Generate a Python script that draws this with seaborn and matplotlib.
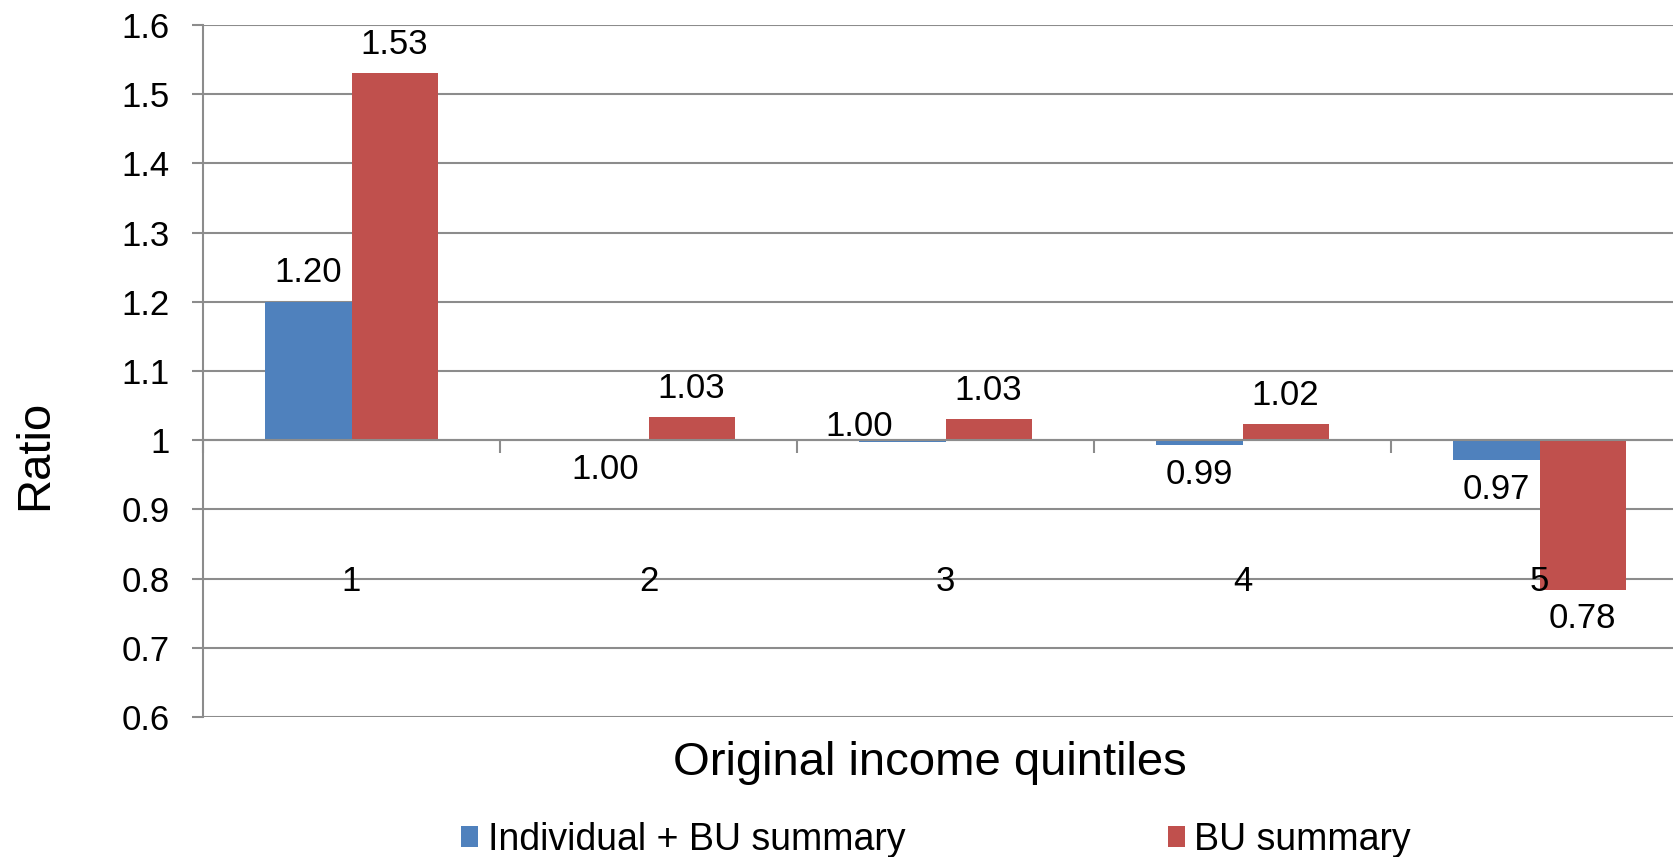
import numpy as np
import pandas as pd
import matplotlib
matplotlib.use("Agg")
import matplotlib.pyplot as plt
from matplotlib.patches import Patch
from matplotlib.ticker import FixedLocator
import seaborn as sns

# ---- data ----
quintiles = ["1", "2", "3", "4", "5"]
series_names = ["Individual + BU summary", "BU summary"]
individual_bu = [1.20, 0.9995, 0.997, 0.993, 0.971]
bu_summary = [1.53, 1.033, 1.030, 1.023, 0.784]
y_ticks = [0.6, 0.7, 0.8, 0.9, 1.0, 1.1, 1.2, 1.3, 1.4, 1.5, 1.6]
y_tick_labels = ["0.6", "0.7", "0.8", "0.9", "1", "1.1", "1.2", "1.3", "1.4", "1.5", "1.6"]

colors = ["#4F81BD", "#C0504D"]
grid_color = "#8C8C8C"
BASE = 1.0

df = pd.DataFrame({
    "quintile": quintiles * 2,
    "series": [series_names[0]] * 5 + [series_names[1]] * 5,
    "ratio": individual_bu + bu_summary,
})
df["diff"] = df["ratio"] - BASE

sns.set_style("white")
plt.rcParams["font.family"] = ["Liberation Sans", "DejaVu Sans"]
plt.rcParams["text.color"] = "black"
plt.rcParams["xtick.labelcolor"] = "black"
plt.rcParams["ytick.labelcolor"] = "black"

fig = plt.figure(figsize=(16.74, 8.57), dpi=100)
ax = fig.add_axes([0.12127, 0.16336, 0.8871, 0.80747])

# bars grow from the ratio baseline of 1
sns.barplot(data=df, x="quintile", y="diff", hue="series", order=quintiles,
            hue_order=series_names, palette=colors, width=0.58, gap=0,
            errorbar=None, bottom=BASE, linewidth=0, saturation=1,
            legend=False, ax=ax, zorder=3)

ax.set_ylim(0.6, 1.6)
ax.set_xlim(-0.5, 4.5)
ax.set_yticks(y_ticks)
ax.set_yticklabels(y_tick_labels)
ax.set_xlabel("")
ax.set_ylabel("")

# gridlines and axes styling
ax.yaxis.grid(True, color=grid_color, linewidth=1.5, zorder=0)
ax.set_axisbelow(True)
for side in ["top", "right"]:
    ax.spines[side].set_visible(False)
ax.spines["left"].set_color(grid_color)
ax.spines["left"].set_linewidth(1.5)
ax.spines["bottom"].set_position(("data", BASE))
ax.spines["bottom"].set_color(grid_color)
ax.spines["bottom"].set_linewidth(1.5)
ax.spines["bottom"].set_zorder(4)

ax.tick_params(axis="y", direction="out", length=8, width=1.5, color=grid_color,
               pad=16, labelsize=25, labelcolor="black", left=True)
ax.tick_params(axis="x", which="major", length=0, pad=90, labelsize=25,
               labelcolor="black")
ax.xaxis.set_minor_locator(FixedLocator(np.arange(-0.5, 5.0, 1.0)))
ax.tick_params(axis="x", which="minor", direction="out", length=9, width=1.5,
               color=grid_color, bottom=True)
# category labels sit on top of the bars
ax.xaxis.set_zorder(5)

# value labels
values = individual_bu + bu_summary
for i, (bar, val) in enumerate(zip(ax.patches, values)):
    cx = bar.get_x() + bar.get_width() / 2
    if i == 2:
        # crowded label sits just above the axis, left of its bar
        ax.annotate(f"{val:.2f}", (cx, BASE), xytext=(-31, -2),
                    textcoords="offset points", ha="center", va="bottom",
                    fontsize=25, color="black", zorder=6)
    elif val >= BASE:
        ax.annotate(f"{val:.2f}", (cx, val), xytext=(0, 9),
                    textcoords="offset points", ha="center", va="bottom",
                    fontsize=25, color="black", zorder=6)
    else:
        ax.annotate(f"{val:.2f}", (cx, val), xytext=(0, -9),
                    textcoords="offset points", ha="center", va="top",
                    fontsize=25, color="black", zorder=6)

# axis titles
fig.text(35 / 1674, 1 - 455 / 857, "Ratio", rotation=90, ha="center",
         va="center", fontsize=34, color="black")
fig.text(930 / 1674, 1 - 775 / 857, "Original income quintiles", ha="center",
         va="baseline", fontsize=34, color="black")

# legend
handles = [Patch(facecolor=c, edgecolor="none") for c in colors]
fig.legend(handles, series_names, loc="center left",
           bbox_to_anchor=(461 / 1674, 1 - 840 / 857), ncol=2, frameon=False,
           fontsize=27, handlelength=0.46, handleheight=0.46,
           handletextpad=0.25, columnspacing=7.0, borderpad=0,
           borderaxespad=0, labelcolor="black")

fig.savefig("out.png", dpi=100)
